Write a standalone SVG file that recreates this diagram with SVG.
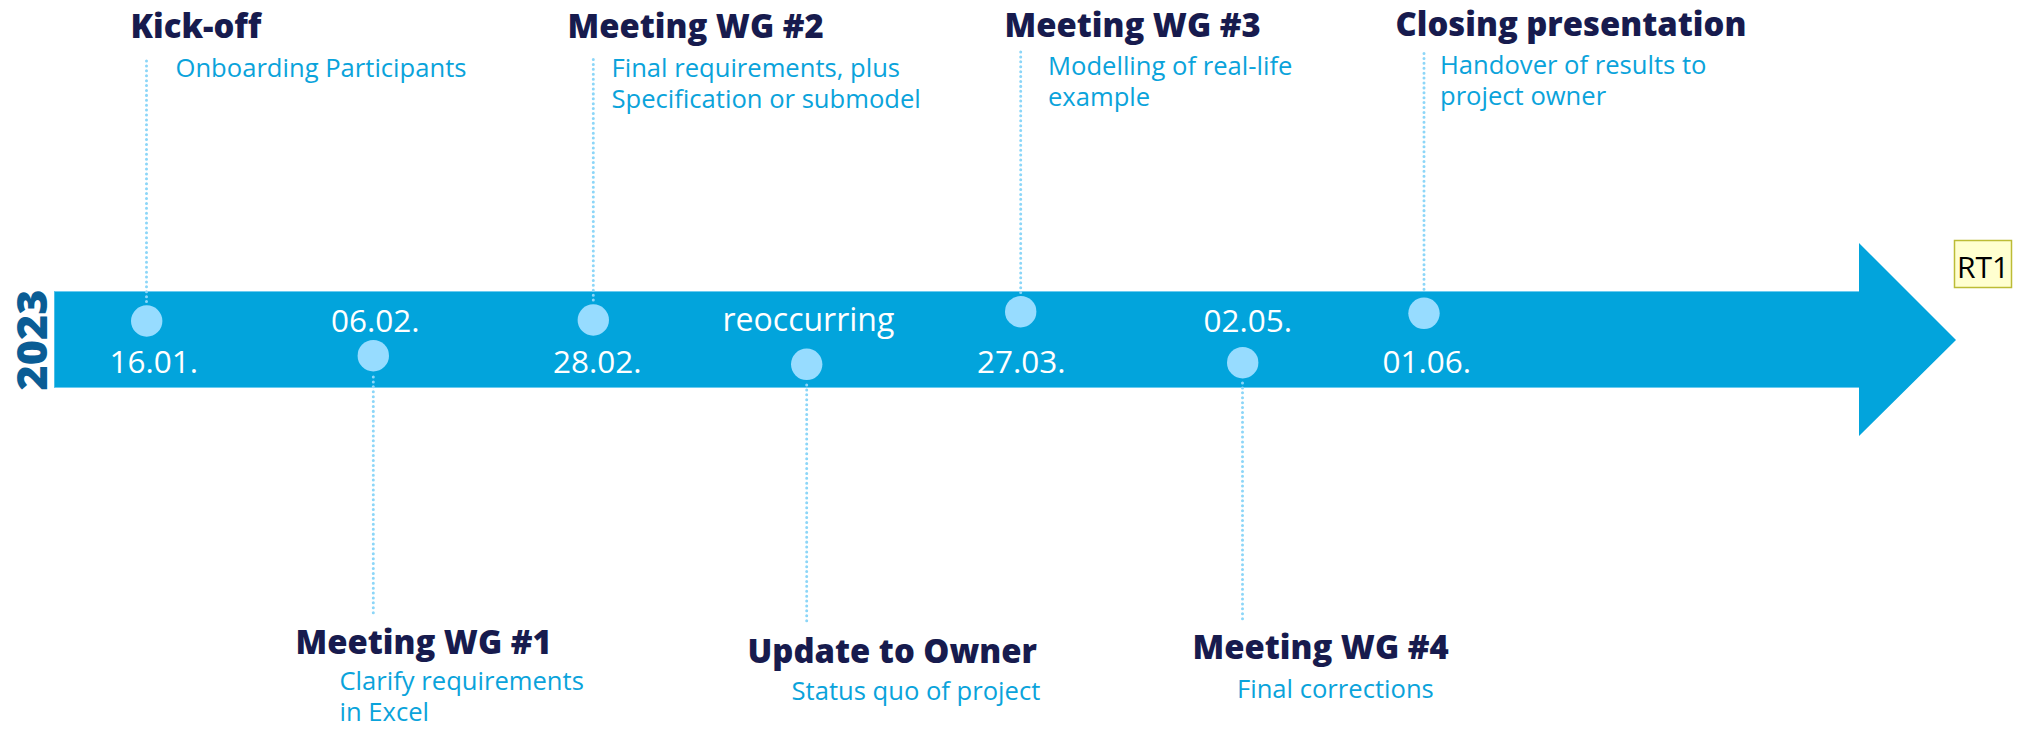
<svg xmlns="http://www.w3.org/2000/svg" width="2029" height="729" viewBox="0 0 2029 729">
<style>
.title{font-family:"Open Sans","Noto Sans","Liberation Sans",sans-serif;font-weight:800;font-size:32.8px;fill:#171b4e}
.desc{font-family:"Open Sans","Noto Sans","Liberation Sans",sans-serif;font-weight:400;font-size:25.6px;fill:#0aa3db}
.date{font-family:"Open Sans","Noto Sans","Liberation Sans",sans-serif;font-weight:400;font-size:31.5px;fill:#ffffff}
.year{font-family:"Open Sans","Noto Sans","Liberation Sans",sans-serif;font-weight:800;font-size:43px;fill:#0a5d95}
.dot{fill:#97dcff}
.lead{stroke:#8cd6f8;stroke-width:3;stroke-linecap:round;stroke-dasharray:0.01 4.9;fill:none}
</style>
<rect width="2029" height="729" fill="#ffffff"/>
<g id="timeline">
<path d="M54.3,291 L1859,291 L1859,243 L1956,340 L1859,436 L1859,388 L54.3,388 Z" fill="#02a4dc"/>
<line x1="54.3" y1="291.5" x2="1859" y2="291.5" stroke="#6ccbf0" stroke-width="1"/>
<line x1="54.3" y1="387.5" x2="1859" y2="387.5" stroke="#6ccbf0" stroke-width="1"/>
<text class="year" transform="translate(46.5,340) rotate(-90)" text-anchor="middle">2023</text>
</g>
<g id="connectors">
<line class="lead" x1="146.5" y1="61" x2="146.5" y2="302"/>
<line class="lead" x1="593.3" y1="59.5" x2="593.3" y2="301"/>
<line class="lead" x1="1020.7" y1="52" x2="1020.7" y2="293"/>
<line class="lead" x1="1424" y1="53.5" x2="1424" y2="294"/>
<line class="lead" x1="373.3" y1="377" x2="373.3" y2="613"/>
<line class="lead" x1="806.7" y1="385" x2="806.7" y2="625"/>
<line class="lead" x1="1242.5" y1="383" x2="1242.5" y2="623"/>
</g>
<g id="kickoff">
<circle class="dot" cx="146.7" cy="321" r="15.7"/>
<text class="date" x="109.5" y="372.7">16.01.</text>
<text class="title" x="130.5" y="38">Kick-off</text>
<text class="desc" x="175.5" y="77">Onboarding Participants</text>
</g>
<g id="wg1">
<circle class="dot" cx="373.3" cy="355.7" r="15.7"/>
<text class="date" x="331" y="331.7">06.02.</text>
<text class="title" x="295.5" y="654">Meeting WG #1</text>
<text class="desc" x="339.5" y="690">Clarify requirements</text>
<text class="desc" x="339.5" y="721">in Excel</text>
</g>
<g id="wg2">
<circle class="dot" cx="593.3" cy="320" r="15.7"/>
<text class="date" x="553" y="372.7">28.02.</text>
<text class="title" x="567.5" y="38">Meeting WG #2</text>
<text class="desc" x="611.5" y="77">Final requirements, plus</text>
<text class="desc" x="611.5" y="108">Specification or submodel</text>
</g>
<g id="update">
<circle class="dot" cx="806.7" cy="364.3" r="15.7"/>
<text class="date" x="722.5" y="330.7" style="font-size:32px">reoccurring</text>
<text class="title" x="747.5" y="662.5">Update to Owner</text>
<text class="desc" x="791.5" y="700">Status quo of project</text>
</g>
<g id="wg3">
<circle class="dot" cx="1020.7" cy="311.7" r="15.7"/>
<text class="date" x="977" y="372.7">27.03.</text>
<text class="title" x="1004.5" y="36.5">Meeting WG #3</text>
<text class="desc" x="1048" y="75">Modelling of real-life</text>
<text class="desc" x="1048" y="106">example</text>
</g>
<g id="wg4">
<circle class="dot" cx="1242.7" cy="362.7" r="15.7"/>
<text class="date" x="1203.5" y="331.7">02.05.</text>
<text class="title" x="1192.5" y="659">Meeting WG #4</text>
<text class="desc" x="1237" y="698">Final corrections</text>
</g>
<g id="closing">
<circle class="dot" cx="1424" cy="313.3" r="15.7"/>
<text class="date" x="1382.5" y="372.7">01.06.</text>
<text class="title" x="1395.5" y="36">Closing presentation</text>
<text class="desc" x="1440" y="74">Handover of results to</text>
<text class="desc" x="1440" y="105">project owner</text>
</g>
<g id="rt1">
<rect x="1954.5" y="240.5" width="57" height="47" fill="#ffffd0" stroke="#bcbc36" stroke-width="1.5"/>
<text x="1983" y="278" text-anchor="middle" style="font-family:'Open Sans','Noto Sans','Liberation Sans',sans-serif;font-size:30px;fill:#000000">RT1</text>
</g>
</svg>
